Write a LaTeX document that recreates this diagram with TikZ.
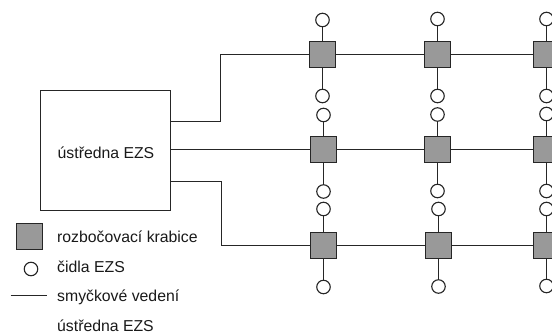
\documentclass[tikz,border=0pt]{standalone}
\usepackage{fontspec}
\setmainfont{Liberation Sans}
\begin{document}
\begin{tikzpicture}[x=1pt,y=-1pt,
  krabice/.style={draw=black!85,line width=1.2pt,fill=black!40,minimum size=26pt,inner sep=0pt,outer sep=0pt},
  cidlo/.style={circle,draw=black!85,line width=1.1pt,fill=white,minimum size=13.5pt,inner sep=0pt,outer sep=0pt},
  vedeni/.style={draw=black!85,line width=1.2pt},
  popis/.style={anchor=west,font=\fontsize{15.8}{18}\selectfont,text=black!90,inner sep=0pt}]
\useasboundingbox (0,0) rectangle (552,334);
\path[clip] (0,0) rectangle (552,334);
\node[draw=black!85,line width=1.2pt,minimum width=130pt,minimum height=120pt,inner sep=0pt,outer sep=0pt] (ustredna) at (105.5,150.5) {};
\node[font=\fontsize{15.8}{18}\selectfont,text=black!90,inner sep=0pt] (ustrtext) at (106,153) {ústředna EZS};
% krabice
\node[krabice] (a1) at (322.5,54.5) {};
\node[krabice] (a2) at (437.5,54.5) {};
\node[krabice] (a3) at (546.5,54.5) {};
\node[krabice] (b1) at (323.5,149.5) {};
\node[krabice] (b2) at (437.5,149.5) {};
\node[krabice] (b3) at (546.5,149.5) {};
\node[krabice] (c1) at (323.5,245.5) {};
\node[krabice] (c2) at (438.5,245.5) {};
\node[krabice] (c3) at (546.5,245.5) {};
% cidla
\foreach \n/\xa/\xb/\xc/\ya/\yb/\yc/\yd/\ye/\yf in {1/322.5/323.5/323.5/20/96/115/191.5/209/287,2/437.5/437.5/438.5/19/96/114.5/191/209/286.5,3/546.5/546.5/546.5/19/96/114/191/209/286}{
  \node[cidlo] (s\n a) at (\xa,\ya) {};
  \node[cidlo] (s\n b) at (\xa,\yb) {};
  \node[cidlo] (s\n c) at (\xb,\yc) {};
  \node[cidlo] (s\n d) at (\xb,\yd) {};
  \node[cidlo] (s\n e) at (\xc,\ye) {};
  \node[cidlo] (s\n f) at (\xc,\yf) {};
}
\draw[vedeni] (s1a) -- (a1); \draw[vedeni] (a1) -- (s1b);
\draw[vedeni] (s2a) -- (a2); \draw[vedeni] (a2) -- (s2b);
\draw[vedeni] (s3a) -- (a3); \draw[vedeni] (a3) -- (s3b);
\draw[vedeni] (s1c) -- (b1); \draw[vedeni] (b1) -- (s1d);
\draw[vedeni] (s2c) -- (b2); \draw[vedeni] (b2) -- (s2d);
\draw[vedeni] (s3c) -- (b3); \draw[vedeni] (b3) -- (s3d);
\draw[vedeni] (s1e) -- (c1); \draw[vedeni] (c1) -- (s1f);
\draw[vedeni] (s2e) -- (c2); \draw[vedeni] (c2) -- (s2f);
\draw[vedeni] (s3e) -- (c3); \draw[vedeni] (c3) -- (s3f);
\draw[vedeni] (a1) -- (a2); \draw[vedeni] (a2) -- (a3);
\draw[vedeni] (b1) -- (b2); \draw[vedeni] (b2) -- (b3);
\draw[vedeni] (c1) -- (c2); \draw[vedeni] (c2) -- (c3);
\coordinate (u1) at (170.5,121.5);
\coordinate (u3) at (170.5,181.5);
\draw[vedeni] (u1) -| (220.5,54.5) -- (a1.west);
\draw[vedeni] (ustredna.east |- b1) -- (b1.west);
\draw[vedeni] (u3) -| (221.5,245.5) -- (c1.west);
% legenda
\node[krabice] (lk) at (29.5,236.5) {};
\node[cidlo] (lc) at (31,269) {};
\coordinate (l1) at (10.5,295.5);
\coordinate (l2) at (47,295.5);
\draw[vedeni] (l1) -- (l2);
\node[popis] (t1) at (57,236.5) {rozbočovací krabice};
\node[popis] (t2) at (57,267) {čidla EZS};
\node[popis] (t3) at (57,297) {smyčkové vedení};
\node[popis] (t4) at (57,325.5) {ústředna EZS};
\end{tikzpicture}
\end{document}
